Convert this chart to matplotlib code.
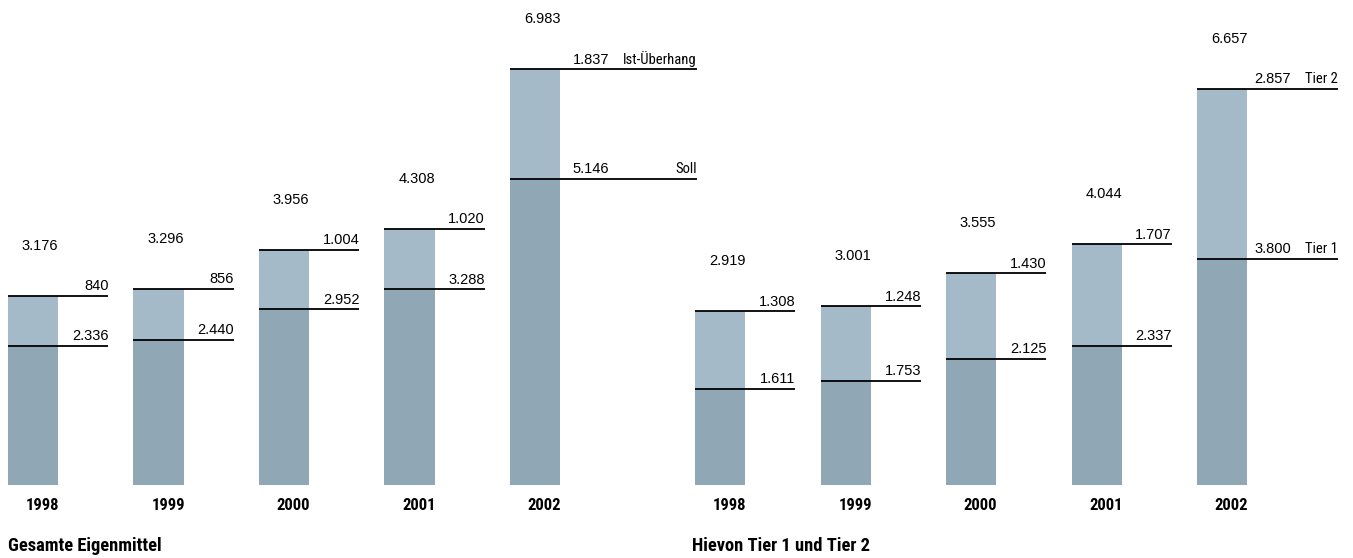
import matplotlib.pyplot as plt

years = ["1998", "1999", "2000", "2001", "2002"]

# Gesamte Eigenmittel
soll = [2336, 2440, 2952, 3288, 5146]
ueberhang = [840, 856, 1004, 1020, 1837]
gesamt = [3176, 3296, 3956, 4308, 6983]

# Hievon Tier 1 und Tier 2
tier1 = [1611, 1753, 2125, 2337, 3800]
tier2 = [1308, 1248, 1430, 1707, 2857]
tier_sum = [2919, 3001, 3555, 4044, 6657]

DARK = "#90a7b6"
LIGHT = "#a5bac8"
NUM_FONT = ["Liberation Sans", "DejaVu Sans"]
NAME_FONT = ["Roboto Condensed", "Liberation Sans", "DejaVu Sans"]
BOLD_FONT = ["Roboto Condensed", "DejaVu Sans"]


def fmt(v):
    return f"{v:,}".replace(",", ".")


def draw_panel(ax, lower, upper, totals, names, xlim, last_val_x, last_end):
    ax.set_xlim(*xlim)
    ax.set_ylim(0, 8151)
    ax.axis("off")
    ax.patch.set_alpha(0)
    w = 0.4
    x = list(range(len(years)))
    ax.bar(x, lower, width=w, align="edge", color=DARK, linewidth=0)
    ax.bar(x, upper, width=w, bottom=lower, align="edge", color=LIGHT, linewidth=0)
    n = len(years)
    for i in x:
        last = i == n - 1
        end = i + (last_end if last else 0.8)
        vx = i + (last_val_x if last else 0.8)
        for y, val in [(lower[i], lower[i]), (totals[i], upper[i])]:
            ax.plot([i, end], [y, y], color="black", lw=1.3, solid_capstyle="butt")
            ax.annotate(fmt(val), (vx, y), xytext=(0, 2), textcoords="offset points",
                        ha="right", va="bottom", fontsize=10.5, family=NUM_FONT)
        if last:
            for y, name in zip([totals[i], lower[i]], names):
                ax.annotate(name, (end, y), xytext=(0, 2), textcoords="offset points",
                            ha="right", va="bottom", fontsize=10.5, family=NAME_FONT)
        ax.annotate(fmt(totals[i]), (i + 0.11, totals[i]), xytext=(0, 31),
                    textcoords="offset points", ha="left", va="bottom",
                    fontsize=10.5, family=NUM_FONT)
        ax.annotate(years[i], (i + 0.275, 0), xytext=(0, -15), textcoords="offset points",
                    ha="center", va="center", fontsize=12, fontweight="bold",
                    family=BOLD_FONT, annotation_clip=False)


fig = plt.figure(figsize=(13.53, 5.58), dpi=100)
W, H = 1353, 558

ax1 = fig.add_axes([0, 73 / H, 700 / W, 485 / H])
draw_panel(ax1, soll, ueberhang, gesamt, ["Ist-Überhang", "Soll"],
           ((0 - 8) / 125.5, (700 - 8) / 125.5), 0.79, 1.49)

ax2 = fig.add_axes([680 / W, 73 / H, 673 / W, 485 / H])
draw_panel(ax2, tier1, tier2, tier_sum, ["Tier 2", "Tier 1"],
           ((680 - 695) / 125.5, (1353 - 695) / 125.5), 0.75, 1.124)

fig.text(8 / W, 1 - 546 / H, "Gesamte Eigenmittel", ha="left", va="center",
         fontsize=13.3, fontweight="bold", family=BOLD_FONT)
fig.text(692 / W, 1 - 546 / H, "Hievon Tier 1 und Tier 2", ha="left", va="center",
         fontsize=13.3, fontweight="bold", family=BOLD_FONT)

fig.savefig("out.png", dpi=100)
